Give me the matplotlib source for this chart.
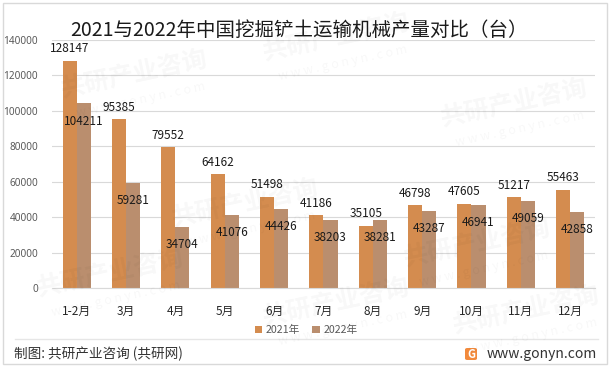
import matplotlib
matplotlib.use("Agg")
import matplotlib.pyplot as plt
import numpy as np
from matplotlib.patches import Rectangle, FancyBboxPatch

plt.rcParams["font.family"] = ["Noto Sans CJK SC", "DejaVu Sans"]

months = ["1-2月", "3月", "4月", "5月", "6月", "7月", "8月", "9月", "10月", "11月", "12月"]
output_2021 = [128147, 95385, 79552, 64162, 51498, 41186, 35105, 46798, 47605, 51217, 55463]
output_2022 = [104211, 59281, 34704, 41076, 44426, 38203, 38281, 43287, 46941, 49059, 42858]
y_ticks = [0, 20000, 40000, 60000, 80000, 100000, 120000, 140000]

COLOR_2021 = "#D48C4F"
COLOR_2022 = "#BA8E6E"
GRID = "#D9D9D9"
TICK_TEXT = "#595959"

fig = plt.figure(figsize=(6.12, 3.69), dpi=100)
ax = fig.add_axes([0.085, 0.2195, 0.887, 0.672])

x = np.arange(len(months))
width = 0.285
bars_a = ax.bar(x - width / 2, output_2021, width, color=COLOR_2021, label="2021年", zorder=2)
bars_b = ax.bar(x + width / 2, output_2022, width, color=COLOR_2022, label="2022年", zorder=2)

for bar, value in zip(bars_a, output_2021):
    ax.annotate(str(value), (bar.get_x() + bar.get_width() / 2, value),
                xytext=(0, 4), textcoords="offset points", ha="center", va="bottom",
                fontsize=8.5, color="#1a1a1a", zorder=4)
for bar, value in zip(bars_b, output_2022):
    ax.annotate(str(value), (bar.get_x() + bar.get_width() / 2, value),
                xytext=(0, -8), textcoords="offset points", ha="center", va="top",
                fontsize=8.5, color="#1a1a1a", zorder=4)

ax.set_xlim(-0.5, len(months) - 0.5)
ax.set_ylim(0, 140000)
ax.set_yticks(y_ticks, labels=[str(v) for v in y_ticks])
ax.set_xticks(x, labels=months)
ax.tick_params(axis="y", length=0, pad=10, labelsize=7.2, labelcolor=TICK_TEXT)
for label in ax.get_yticklabels():
    label.set_family(["Noto Sans", "DejaVu Sans"])
ax.tick_params(axis="x", length=0, pad=12, labelsize=8.5, labelcolor="#262626")
ax.grid(axis="y", color=GRID, linewidth=0.8, zorder=0)
ax.set_axisbelow(True)
for side in ("left", "right", "top"):
    ax.spines[side].set_visible(False)
ax.spines["bottom"].set_color(GRID)
ax.spines["bottom"].set_linewidth(0.8)

leg = fig.legend(loc="center", bbox_to_anchor=(0.5, 1 - 330 / 369), ncol=2, frameon=False,
                 fontsize=7.7, handlelength=0.7, handleheight=0.7, handletextpad=0.3,
                 columnspacing=1.2)
for text in leg.get_texts():
    text.set_color(TICK_TEXT)

fig.text(0.488, 1 - 30 / 369, "2021与2022年中国挖掘铲土运输机械产量对比（台）",
         ha="center", va="center", fontsize=14, color="#1a1a1a")

# faint watermark
for wx, wy in [(0.22, 0.80), (0.55, 0.90), (0.84, 0.72), (0.40, 0.45), (0.78, 0.34),
               (0.18, 0.26), (0.55, 0.18), (0.86, 0.16)]:
    fig.text(wx, wy, "共研产业咨询", fontsize=18, fontweight="bold", color="#000000",
             alpha=0.03, rotation=12, ha="center", va="center", zorder=10)
    fig.text(wx + 0.01, wy - 0.07, "w w w . g o n y n . c o m", fontsize=9, color="#000000",
             alpha=0.03, rotation=12, ha="center", va="center", zorder=10)

# frame, separator and footer
fig.add_artist(Rectangle((3 / 612, 1 - 364 / 369), 604 / 612, 361 / 369,
                         transform=fig.transFigure, fill=False, edgecolor=GRID, linewidth=1))
fig.add_artist(plt.Line2D([15 / 612, 598 / 612], [1 - 339 / 369] * 2,
                          transform=fig.transFigure, color="#E6E6E6", linewidth=1))
fig.text(14 / 612, 1 - 354 / 369, "制图: 共研产业咨询 (共研网)", ha="left", va="center",
         fontsize=9.8, color="#333333")
fig.add_artist(FancyBboxPatch((465 / 612, 1 - 360 / 369), 12 / 612, 12 / 369,
                              boxstyle="round,pad=0,rounding_size=0.004",
                              transform=fig.transFigure, facecolor="#F28A3C", edgecolor="none"))
fig.text(471 / 612, 1 - 354 / 369, "G", ha="center", va="center", fontsize=8,
         fontweight="bold", color="white")
fig.text(597 / 612, 1 - 354 / 369, "www.gonyn.com", ha="right", va="center",
         fontsize=10, color="#333333")

fig.savefig("out.png", dpi=100)
